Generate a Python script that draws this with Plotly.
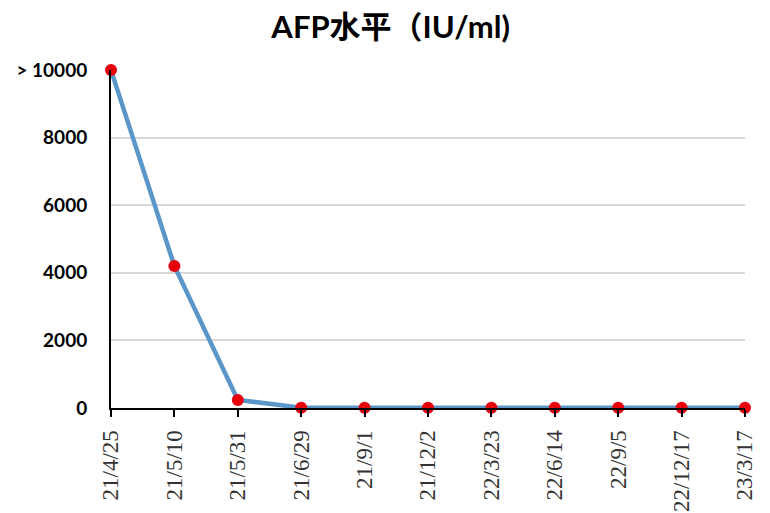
import plotly.graph_objects as go

# Sample dates and AFP values (IU/ml)
dates = ["21/4/25", "21/5/10", "21/5/31", "21/6/29", "21/9/1", "21/12/2",
         "22/3/23", "22/6/14", "22/9/5", "22/12/17", "23/3/17"]
afp = [10000, 4200, 240, 10, 8, 6, 5, 5, 4, 4, 4]

y_ticks = [0, 2000, 4000, 6000, 8000, 10000]
y_labels = ["0", "2000", "4000", "6000", "8000", "> 10000"]

fig = go.Figure()

fig.add_trace(go.Scatter(
    x=dates,
    y=afp,
    mode="lines+markers",
    line=dict(color="#5b96c8", width=4.5),
    marker=dict(color="#e8000b", size=12),
    cliponaxis=False,
    hovertemplate="%{x}: %{y}<extra></extra>"
))

# the page body adds an 8px offset, so margins are shifted to compensate
fig.update_layout(
    title=dict(
        text="AFP水平（IU/ml)",
        x=0.497, xanchor="center", y=0.962, yanchor="middle",
        font=dict(family="Lato, Noto Sans CJK SC", size=31, color="black", weight="bold")
    ),
    width=770,
    height=513,
    plot_bgcolor="white",
    paper_bgcolor="white",
    showlegend=False,
    margin=dict(l=103, r=33, t=62, b=113),
    xaxis=dict(
        type="category",
        range=[0, len(dates) - 1],
        automargin=False,
        showline=True,
        linecolor="black",
        linewidth=2,
        ticks="outside",
        ticklen=7,
        tickwidth=2,
        tickcolor="black",
        tickangle=-90,
        ticklabelstandoff=4,
        tickfont=dict(family="Liberation Serif, DejaVu Serif", size=23, color="#333333"),
        showgrid=False,
        zeroline=False,
    ),
    yaxis=dict(
        range=[0, 10000],
        tickvals=y_ticks,
        ticktext=y_labels,
        automargin=False,
        showline=True,
        linecolor="black",
        linewidth=2,
        ticks="",
        showgrid=True,
        gridcolor="#d9d9d9",
        gridwidth=1.5,
        zeroline=False,
        ticklabelstandoff=18,
        tickfont=dict(family="Lato", size=19, color="black", weight="bold"),
    ),
)

fig.write_html("out.html")
